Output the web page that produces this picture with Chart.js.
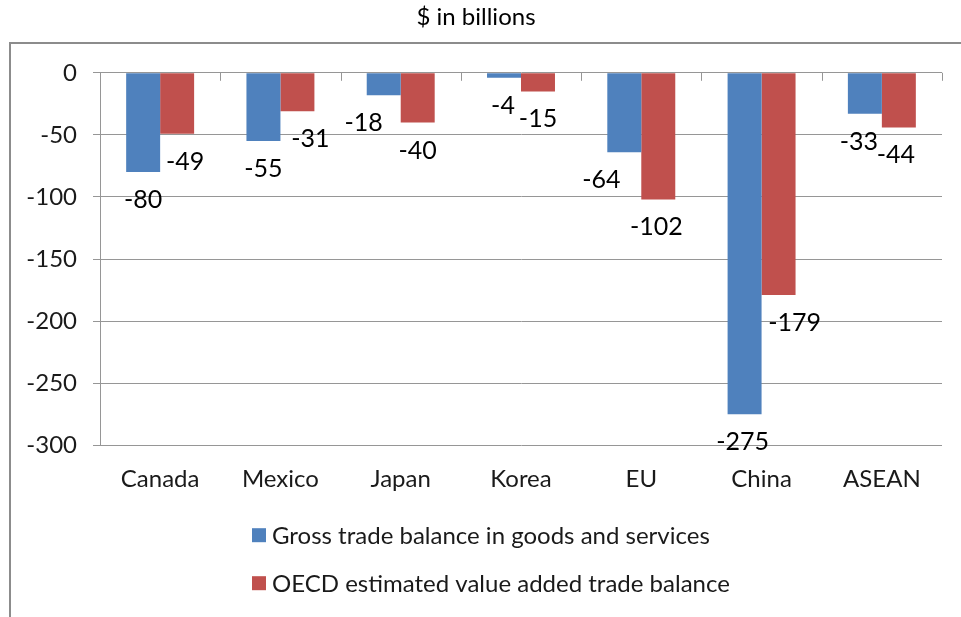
<!DOCTYPE html>
<html>
<head>
<meta charset="utf-8">
<script src="https://cdn.jsdelivr.net/npm/chart.js@4"></script>
<style>
  body { margin: 0; background: #fff; }
  #wrap { width: 961px; height: 617px; position: relative; }
</style>
</head>
<body>
<div id="wrap"><canvas id="tradeChart"></canvas></div>
<script>
// chart data
const regions = ['Canada', 'Mexico', 'Japan', 'Korea', 'EU', 'China', 'ASEAN'];
const grossBalance = [-80, -55, -18, -4, -64, -275, -33];
const oecdBalance = [-49, -31, -40, -15, -102, -179, -44];
const yTicks = [0, -50, -100, -150, -200, -250, -300];
const seriesNames = ['Gross trade balance in goods and services', 'OECD estimated value added trade balance'];

// horizontal nudges so the labels do not sit on top of each other (like excel does)
const grossNudge = [0, 0, -20, -1, -23, -2, -6];
const oecdNudge = [8, 13, 0, 0, -2, 16, -3];

const FONT = 'Lato, "Open Sans", sans-serif';
const GRID = '#969696';

// frame, category ticks, value labels and the legend
const extras = {
    id: 'extras',
    beforeDraw(chart) {
        const ctx = chart.ctx;
        ctx.save();
        ctx.strokeStyle = '#8c8c8c';
        ctx.lineWidth = 2;
        ctx.beginPath();
        ctx.moveTo(10, chart.height);
        ctx.lineTo(10, 43);
        ctx.lineTo(chart.width, 43);
        ctx.stroke();
        ctx.restore();
    },
    afterDatasetsDraw(chart) {
        const ctx = chart.ctx;
        const xs = chart.scales.x;
        const y0 = chart.scales.y.getPixelForValue(0);
        ctx.save();

        // little tick marks between the categories on the zero line
        ctx.strokeStyle = GRID;
        ctx.lineWidth = 1;
        const n = regions.length;
        for (let i = 0; i <= n; i++) {
            const x = Math.round(xs.left + i * xs.width / n) + 0.5;
            ctx.beginPath();
            ctx.moveTo(x, y0);
            ctx.lineTo(x, y0 + 8);
            ctx.stroke();
        }

        // value labels under the bar ends
        ctx.fillStyle = '#000';
        ctx.font = '25px ' + FONT;
        ctx.textAlign = 'center';
        ctx.textBaseline = 'middle';
        const nudges = [grossNudge, oecdNudge];
        chart.data.datasets.forEach((ds, d) => {
            chart.getDatasetMeta(d).data.forEach((bar, i) => {
                ctx.fillText(String(ds.data[i]), bar.x + nudges[d][i], bar.y + 28);
            });
        });

        // legend, one series per row
        ctx.font = '24px ' + FONT;
        ctx.textAlign = 'left';
        let widest = 0;
        chart.data.datasets.forEach(ds => {
            widest = Math.max(widest, ctx.measureText(ds.label).width);
        });
        const left = Math.round((20 + chart.width - (widest + 20)) / 2);
        chart.data.datasets.forEach((ds, d) => {
            const cy = chart.chartArea.bottom + 90 + d * 48;
            ctx.fillStyle = ds.backgroundColor;
            ctx.fillRect(left, cy - 7, 14, 14);
            ctx.fillStyle = '#1a1a1a';
            ctx.fillText(ds.label, left + 20, cy + 1);
        });
        ctx.restore();
    }
};

const chartCanvas = document.getElementById('tradeChart');

const tradeChart = new Chart(chartCanvas, {
    type: 'bar',
    data: {
        labels: regions,
        datasets: [
            {
                label: seriesNames[0],
                data: grossBalance,
                backgroundColor: '#4f81bd',
                categoryPercentage: 0.565,
                barPercentage: 1
            },
            {
                label: seriesNames[1],
                data: oecdBalance,
                backgroundColor: '#c0504d',
                categoryPercentage: 0.565,
                barPercentage: 1
            }
        ]
    },
    options: {
        responsive: true,
        maintainAspectRatio: false,
        animation: false,
        layout: {
            padding: { left: 10, right: 19, top: 0, bottom: 103 }
        },
        plugins: {
            legend: { display: false },
            tooltip: { enabled: false },
            title: {
                display: true,
                text: '$ in billions',
                color: '#000',
                font: { family: FONT, size: 24, weight: 'normal' },
                padding: { top: 3, bottom: 41 }
            }
        },
        scales: {
            x: {
                position: 'bottom',
                grid: { display: false, drawTicks: false },
                border: { display: false },
                ticks: {
                    color: '#1a1a1a',
                    font: { family: FONT, size: 24 },
                    padding: 20,
                    maxRotation: 0
                }
            },
            y: {
                min: -300,
                max: 0,
                afterFit(scale) { scale.width = 90; },
                afterBuildTicks(scale) {
                    scale.ticks = yTicks.map(v => ({ value: v }));
                },
                grid: { color: GRID, tickLength: 7, tickColor: GRID },
                border: { display: true, color: GRID },
                ticks: {
                    color: '#1a1a1a',
                    font: { family: FONT, size: 24 },
                    padding: 16
                }
            }
        }
    },
    plugins: [extras]
});
</script>
</body>
</html>
